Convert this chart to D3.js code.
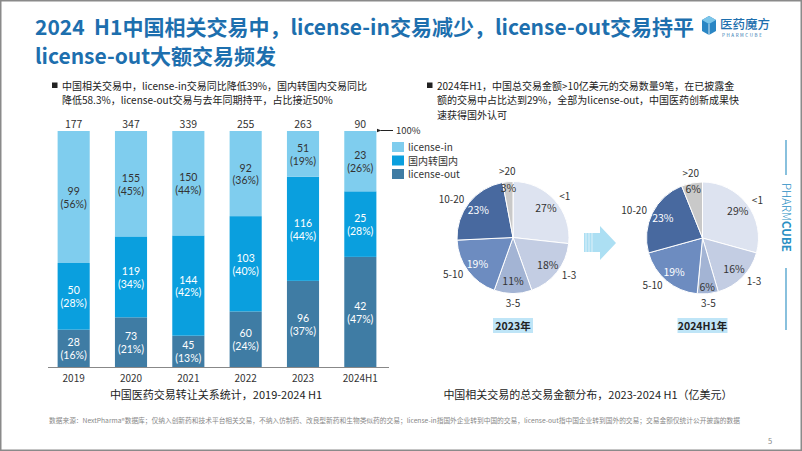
<!DOCTYPE html>
<html><head><meta charset="utf-8">
<script src="https://cdn.jsdelivr.net/npm/d3@7"></script>
<style>
html,body{margin:0;padding:0;background:#fff;}
svg{display:block;font-family:"Noto Sans CJK SC","Noto Sans",sans-serif;}
</style></head>
<body>
<svg id="c" width="802" height="451"></svg>
<script>
// ---------- data ----------
const years = ["2019","2020","2021","2022","2023","2024H1"];
const licenseIn = [99,155,150,92,51,23];
const domestic = [50,119,144,103,116,25];
const licenseOut = [28,73,45,60,96,42];
const totals = [177,347,339,255,263,90];
const seriesNames = ["license-in","国内转国内","license-out"];
const dealSizeBins = ["<1","1-3","3-5","5-10","10-20",">20"];
const share2023 = [27,18,11,19,23,3];
const share2024H1 = [29,16,6,19,23,6];
const pieTitles = ["2023年","2024H1年"];

const titleLines = ["2024  H1中国相关交易中，license-in交易减少，license-out交易持平","license-out大额交易频发"];
const leftBullet = ["中国相关交易中，license-in交易同比降低39%，国内转国内交易同比","降低58.3%，license-out交易与去年同期持平，占比接近50%"];
const rightBullet = ["2024年H1，中国总交易金额>10亿美元的交易数量9笔，在已披露金","额的交易中占比达到29%，全部为license-out，中国医药创新成果快","速获得国外认可"];
const leftCaption = "中国医药交易转让关系统计，2019-2024 H1";
const rightCaption = "中国相关交易的总交易金额分布，2023-2024 H1（亿美元）";
const sourceNote = "数据来源：NextPharma®数据库；仅纳入创新药和技术平台相关交易，不纳入仿制药、改良型新药和生物类似药的交易；license-in指国外企业转到中国的交易，license-out指中国企业转到国外的交易；交易金额仅统计公开披露的数据";

// ---------- setup ----------
const svg = d3.select("#c");
const titleColor = "#1d6fae";
const barColors = ["#7fcdee","#0a9fde","#3f7ca4"];
const pieColors = ["#dde3f0","#c3cde3","#a3b4d4","#6d8cc0","#48699f","#c9c9c9"];
const pieTextColors = ["#333","#333","#333","#fff","#fff","#333"];

// frame
svg.append("rect").attr("x",0.75).attr("y",0.75).attr("width",800.5).attr("height",449.5)
  .attr("fill","none").attr("stroke","#8a8a8a").attr("stroke-width",1.5);

// title
svg.append("g").selectAll("text").data(titleLines).join("text")
  .attr("x",35).attr("y",(d,i)=>35+i*29).attr("font-size",21).attr("font-weight",700)
  .style("white-space","pre").attr("fill",titleColor).text(d=>d);

// logo
const logo = svg.append("g");
logo.append("path").attr("d","M709,16 L716,20 L716,31 L709,35 L702,31 L702,20 Z").attr("fill","#2a86c4");
logo.append("path").attr("d","M709,16 L716,20 L709,24 L702,20 Z").attr("fill","#7cc6ea");
logo.append("path").attr("d","M709,24 L709,35").attr("stroke","#fff").attr("stroke-width",0.8);
logo.append("text").attr("x",720).attr("y",29).attr("font-size",12.5).attr("fill",titleColor).attr("font-weight",500).text("医药魔方");
logo.append("text").attr("x",722).attr("y",36.5).attr("font-size",4.5).attr("letter-spacing",1.6).attr("fill",titleColor).text("PHARMCUBE");

// right vertical brand
const vb = svg.append("g");
vb.append("line").attr("x1",786).attr("x2",786).attr("y1",140).attr("y2",175).attr("stroke","#3a97c6").attr("stroke-width",1.2);
vb.append("line").attr("x1",786).attr("x2",786).attr("y1",268).attr("y2",330).attr("stroke","#3a97c6").attr("stroke-width",1.2);
const vt = vb.append("text").attr("transform","translate(782,183) rotate(90)").attr("font-size",11.5).attr("fill","#2a8fc4");
vt.append("tspan").attr("font-weight",300).text("PHARM");
vt.append("tspan").attr("font-weight",700).text("CUBE");

// bullets
function bullet(lines,x,y){
  const g = svg.append("g");
  g.append("rect").attr("x",x).attr("y",y-7).attr("width",5.5).attr("height",5.5).attr("fill","#222");
  g.selectAll("text").data(lines).join("text").attr("x",x+10).attr("y",(d,i)=>y+i*14.5)
    .attr("font-size",10).attr("fill","#222").text(d=>d);
}
bullet(leftBullet,52,89.5);
bullet(rightBullet,427,89.5);

// ---------- bar chart ----------
const x = d3.scaleBand().domain(years).range([45,389]).paddingInner(0.44).paddingOuter(0.22);
const y = d3.scaleLinear().domain([0,1]).range([367,131]);
const seriesData = [licenseIn,domestic,licenseOut];
const rows = years.map((yr,i)=>({year:yr,out:licenseOut[i]/totals[i],dom:domestic[i]/totals[i],inn:licenseIn[i]/totals[i],i}));
const stack = d3.stack().keys(["out","dom","inn"])(rows);
const keyIdx = {out:2,dom:1,inn:0};
const bars = svg.append("g");
stack.forEach(layer=>{
  const si = keyIdx[layer.key];
  bars.append("g").selectAll("rect").data(layer).join("rect")
    .attr("x",d=>x(d.data.year)).attr("width",x.bandwidth())
    .attr("y",d=>y(d[1])).attr("height",d=>y(d[0])-y(d[1]))
    .attr("fill",barColors[si]);
  const lg = bars.append("g").attr("font-size",10.5).attr("text-anchor","middle")
    .attr("font-family","Lato, 'Noto Sans', sans-serif")
    .attr("fill",si===0?"#333":"#fff");
  layer.forEach(d=>{
    const v = seriesData[si][d.data.i];
    const cy = (y(d[0])+y(d[1]))/2;
    const cx = x(d.data.year)+x.bandwidth()/2;
    lg.append("text").attr("x",cx).attr("y",cy-2).text(v);
    lg.append("text").attr("x",cx).attr("y",cy+10.8).text("("+Math.round(v/totals[d.data.i]*100)+"%)");
  });
});
// totals
svg.append("g").selectAll("text").data(years).join("text")
  .attr("x",d=>x(d)+x.bandwidth()/2).attr("y",127.5).attr("text-anchor","middle")
  .attr("font-size",10.5).attr("fill","#333").text((d,i)=>totals[i]);
// axis
const xAxis = svg.append("g").attr("transform","translate(0,367.5)")
  .call(d3.axisBottom(x).tickSize(0).tickPadding(7));
xAxis.select(".domain").attr("d","M48,0H389").attr("stroke","#888");
xAxis.selectAll("text").attr("font-size",10).attr("fill","#333").attr("font-family","'Noto Sans CJK SC',sans-serif");
// 100% arrow
svg.append("defs").append("marker").attr("id","ah").attr("viewBox","0 0 10 10").attr("refX",1).attr("refY",5)
  .attr("markerWidth",5).attr("markerHeight",5).attr("orient","auto")
  .append("path").attr("d","M10,1 L0,5 L10,9 Z").attr("fill","#222");
svg.append("line").attr("x1",393).attr("x2",381).attr("y1",130.5).attr("y2",130.5)
  .attr("stroke","#222").attr("stroke-width",1).attr("marker-end","url(#ah)");
svg.append("text").attr("x",396).attr("y",134).attr("font-size",9.5).attr("fill","#333").text("100%");
// legend
const leg = svg.append("g").selectAll("g").data(seriesNames).join("g")
  .attr("transform",(d,i)=>`translate(392,${142+i*13.5})`);
leg.append("rect").attr("width",12).attr("height",10).attr("fill",(d,i)=>barColors[i]);
leg.append("text").attr("x",16).attr("y",9).attr("font-size",10).attr("fill","#333").text(d=>d);
// caption
svg.append("text").attr("x",216).attr("y",399).attr("text-anchor","middle").attr("font-size",11).attr("fill","#222").text(leftCaption);

// ---------- pies ----------
const r = 56;
const pie = d3.pie().sort(null).value(d=>d);
const arc = d3.arc().innerRadius(0).outerRadius(r);
function drawPie(vals,cx,cy,title){
  const g = svg.append("g").attr("transform",`translate(${cx},${cy})`);
  const arcs = pie(vals);
  g.selectAll("path").data(arcs).join("path").attr("d",arc)
    .attr("fill",(d,i)=>pieColors[i]).attr("stroke","#fff").attr("stroke-width",1);
  g.selectAll("text.p").data(arcs).join("text").attr("class","p")
    .attr("transform",d=>{
      const span = d.endAngle-d.startAngle;
      const lr = span<0.5 ? r*0.88 : r*0.79;
      const a = (d.startAngle+d.endAngle)/2;
      return `translate(${Math.sin(a)*lr},${-Math.cos(a)*lr})`;
    }).attr("dy","0.35em")
    .attr("text-anchor","middle").attr("font-size",10.5).attr("fill",(d,i)=>pieTextColors[i])
    .text(d=>d.data+"%");
  g.selectAll("text.c").data(arcs).join("text").attr("class","c")
    .each(function(d,i){
      const a = (d.startAngle+d.endAngle)/2;
      const s = Math.sin(a), c = -Math.cos(a);
      const rr = r+6;
      const anchor = Math.abs(s)<0.3?"middle":(s>0?"start":"end");
      const off = Math.abs(s)<0.3 ? 4 : 0;
      d3.select(this).attr("x",s*rr).attr("y",c*(rr+off)).attr("dy","0.35em")
        .attr("text-anchor",anchor).attr("font-size",10).attr("fill","#333").text(dealSizeBins[i]);
    });
  const tw = title.length>5?50:40;
  svg.append("rect").attr("x",cx-tw/2).attr("y",318).attr("width",tw).attr("height",15).attr("fill","#bfe5f7");
  svg.append("text").attr("x",cx).attr("y",329.5).attr("text-anchor","middle").attr("font-size",10.5)
    .attr("font-weight",700).attr("fill","#222").text(title);
}
drawPie(share2023,513,237.5,pieTitles[0]);
drawPie(share2024H1,702.5,238,pieTitles[1]);

// arrow between pies
const ag = svg.append("g");
ag.append("path").attr("d","M584,233 L600,233 L600,226 L616,243 L600,260 L600,252 L584,252 Z").attr("fill","#acdff3");
[585.5,588.5,591.5].forEach(xx=>ag.append("rect").attr("x",xx).attr("y",233).attr("width",1).attr("height",19).attr("fill","#fff").attr("opacity",0.6));

svg.append("text").attr("x",588).attr("y",399).attr("text-anchor","middle").attr("font-size",11).attr("fill","#222").text(rightCaption);

// source
svg.append("text").attr("x",49).attr("y",423).attr("font-size",6.4).attr("fill","#888")
  .attr("textLength",691).attr("lengthAdjust","spacingAndGlyphs").text(sourceNote);
svg.append("text").attr("x",768).attr("y",444).attr("font-size",7.5).attr("fill","#888").text("5");
</script>
</body></html>
